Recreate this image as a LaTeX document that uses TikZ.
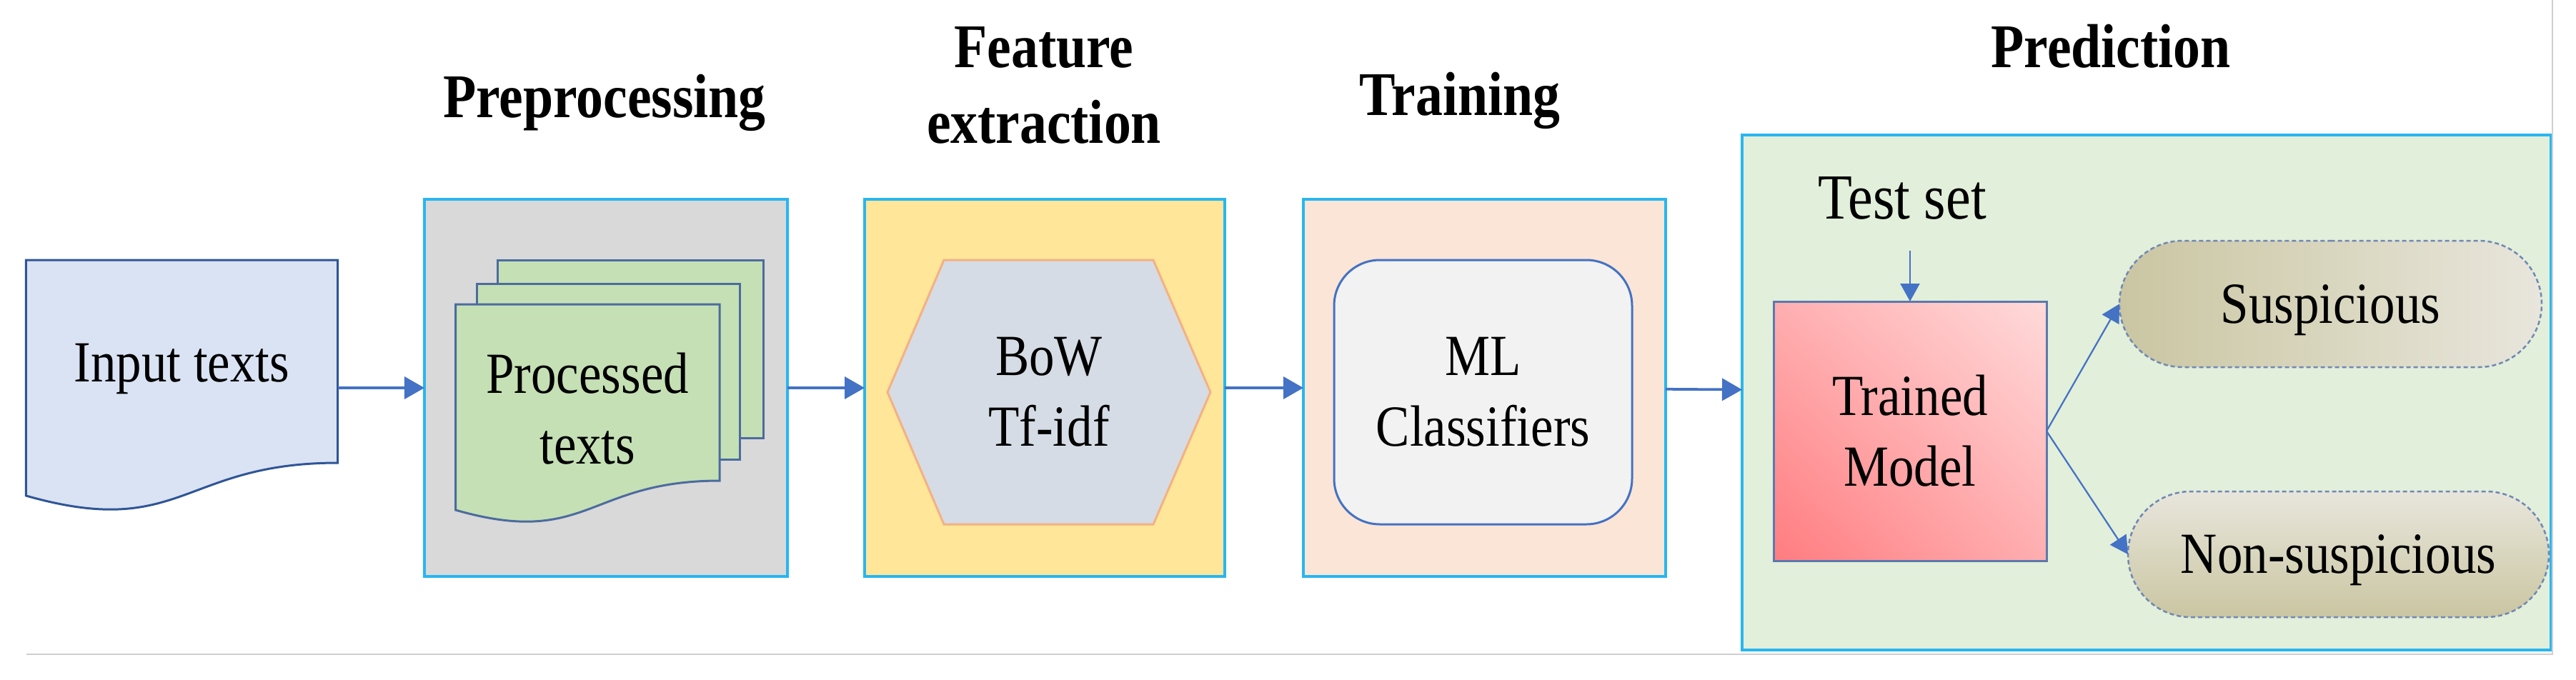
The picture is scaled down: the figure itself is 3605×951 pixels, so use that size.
\documentclass[tikz,border=0pt]{standalone}
\usepackage{fontspec}
\setmainfont{Liberation Serif}[FakeStretch=0.87]
\usetikzlibrary{arrows.meta,calc,shapes.misc,shadings}
\definecolor{panelblue}{HTML}{29B6F0}
\definecolor{arrowblue}{HTML}{4472C4}
\definecolor{docfill}{HTML}{DAE3F3}
\definecolor{docline}{HTML}{2F5597}
\definecolor{stackfill}{HTML}{C5E0B4}
\definecolor{stackline}{HTML}{4C6B9F}
\definecolor{pregray}{HTML}{D9D9D9}
\definecolor{featyellow}{HTML}{FFE699}
\definecolor{hexfill}{HTML}{D6DCE5}
\definecolor{hexline}{HTML}{F4B183}
\definecolor{trainpeach}{HTML}{FBE5D6}
\definecolor{mlfill}{HTML}{F2F2F2}
\definecolor{predgreen}{HTML}{E2EFDA}
\definecolor{modelline}{HTML}{5B79AE}
\definecolor{modeldark}{HTML}{FF7C80}
\definecolor{modelmid}{HTML}{FFAEB0}
\definecolor{modellight}{HTML}{FFDADA}
\definecolor{stadline}{HTML}{7088B5}
\definecolor{staddark}{HTML}{CAC6A2}
\definecolor{stadlight}{HTML}{E8E6DC}
\definecolor{framegray}{HTML}{CFCFCF}
\pgfdeclarelayer{bg}
\pgfdeclarelayer{mid}
\pgfsetlayers{bg,mid,main}
\begin{document}
\begin{tikzpicture}[x=0.2pt,y=-0.2pt,
  panel/.style={rectangle, draw=panelblue, line width=0.7pt, inner sep=0pt, outer sep=0pt},
  body/.style={font=\fontsize{16.3}{19.8}\selectfont, align=center},
  title/.style={font=\bfseries\fontsize{17.4}{21.2}\selectfont, align=center},
  arr/.style={draw=arrowblue, line width=0.75pt, -{Triangle[length=5.6pt,width=6.2pt]}},
  thinarr/.style={draw=arrowblue, line width=0.45pt, -{Triangle[length=5pt,width=5.4pt]}},
  docshape/.style={draw=docline, line width=0.6pt, fill=docfill},
  stackshape/.style={draw=stackline, line width=0.6pt, fill=stackfill},
  stadium/.style={rounded rectangle, draw=stadline, line width=0.5pt, dash pattern=on 1.2pt off 0.8pt, inner sep=0pt, outer sep=0pt}
]
\useasboundingbox (0,0) rectangle (3605,951);

% frame lines
\draw[framegray, line width=0.3pt] (37,916) -- (3572,916) -- (3572,0);

% panels
\begin{pgfonlayer}{bg}
\node[panel, fill=pregray, minimum width=101.6pt, minimum height=105.6pt] (pre) at (848,543) {};
\node[panel, fill=featyellow, minimum width=100.8pt, minimum height=105.6pt] (feat) at (1462,543) {};
\node[panel, fill=trainpeach, minimum width=101.4pt, minimum height=105.6pt] (train) at (2077.5,543) {};
\node[panel, fill=predgreen, minimum width=226.4pt, minimum height=144.2pt] (pred) at (3004,549.5) {};
\end{pgfonlayer}

% titles
\node[title, anchor=base] (tpre) at (846,164) {Preprocessing};
\node[title] (tfeat) at (1461,119) {Feature\\extraction};
\node[title, anchor=base] (ttrain) at (2043,161) {Training};
\node[title, anchor=base] (tpred) at (2954,94) {Prediction};

% input document
\node[body, inner sep=0pt, outer sep=0pt, minimum width=87.2pt, minimum height=56.8pt,
      text height=11.2pt, text depth=0pt] (input) at (254.5,506) {Input texts};
\begin{pgfonlayer}{mid}
\draw[docshape] (input.north west) -- (input.north east) -- (input.south east)
  .. controls (input.south) and ($(input.south)+(0,108)$) .. ($(input.south west)+(0,46)$) -- cycle;
\end{pgfonlayer}

% processed texts stack
\node[body, inner sep=0pt, outer sep=0pt, minimum width=73.9pt, minimum height=58.4pt] (proc) at (822.25,572) {Processed\\texts};
\begin{pgfonlayer}{mid}
\draw[stackshape] ($(proc.north west)+(58.5,-62)$) rectangle ($(proc.north east)+(61,187)$);
\draw[stackshape] ($(proc.north west)+(29.5,-29)$) rectangle ($(proc.north east)+(28,217)$);
\draw[stackshape] (proc.north west) -- (proc.north east) -- ($(proc.north east)+(0,247)$)
  .. controls ($(proc.north)+(0,247)$) and ($(proc.north)+(0,341)$) .. ($(proc.north west)+(0,288)$) -- cycle;
\end{pgfonlayer}

% hexagon
\node[body, inner sep=0pt, outer sep=0pt, minimum width=90.4pt, minimum height=74pt] (hex) at (1468,549) {BoW\\Tf-idf};
\begin{pgfonlayer}{mid}
\draw[draw=hexline, line width=0.6pt, fill=hexfill]
  ($(hex.north west)+(79,0)$) -- ($(hex.north east)+(-80,0)$) -- (hex.east)
  -- ($(hex.south east)+(-80,0)$) -- ($(hex.south west)+(79,0)$) -- (hex.west) -- cycle;
\end{pgfonlayer}

% ML classifiers
\node[body, rectangle, rounded corners=12.8pt, draw=arrowblue, line width=0.6pt, fill=mlfill,
      inner sep=0pt, outer sep=0pt, minimum width=83.4pt, minimum height=74pt] (ml) at (2075.5,549) {ML\\Classifiers};

% prediction content
\node[font=\fontsize{18}{21}\selectfont, anchor=base, inner ysep=8.6pt] (test) at (2662,306) {Test set};
\node[body, rectangle, draw=modelline, line width=0.6pt, inner sep=0pt, outer sep=0pt,
      minimum width=76.4pt, minimum height=72.6pt,
      lower left=modeldark, upper right=modellight, upper left=modelmid, lower right=modelmid] (model) at (2673,603.5) {Trained\\Model};
\node[body, stadium, minimum width=118.2pt, minimum height=35.4pt, text height=10.6pt, text depth=0pt,
      left color=staddark, right color=stadlight] (susp) at (3261.5,425.5) {Suspicious};
\node[body, stadium, minimum width=117.8pt, minimum height=35.2pt, text height=10.6pt, text depth=0pt,
      top color=stadlight, bottom color=staddark] (non) at (3272.5,776) {Non-suspicious};

% connectors
\draw[arr] (input.east |- pre.west) -- (pre.west);
\draw[arr] (pre.east) -- (feat.west);
\draw[arr] (feat.east) -- (train.west);
\draw[arr] (train) -- (pred);
\draw[thinarr] (test.south -| model.north) -- (model.north);
\draw[thinarr] (model.east) -- (susp.west);
\draw[thinarr] (model.east) -- (non.west);
\end{tikzpicture}
\end{document}
